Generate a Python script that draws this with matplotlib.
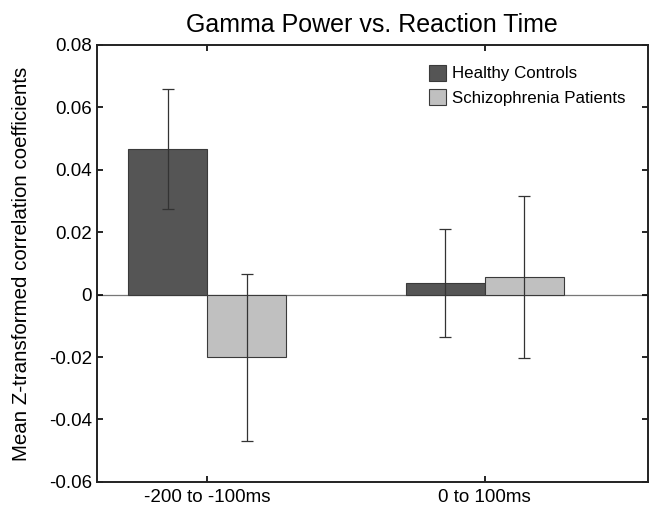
import matplotlib
matplotlib.use("Agg")
import matplotlib.pyplot as plt
import numpy as np

plt.rcParams["font.family"] = ["Liberation Sans", "DejaVu Sans"]

# ── data ─────────────────────────────────────────────────────────────────────
categories = ["-200 to -100ms", "0 to 100ms"]
groups     = ["Healthy Controls", "Schizophrenia Patients"]

hc_mean = [0.0467, 0.0038]
hc_err  = [0.0193, 0.0173]
sz_mean = [-0.0201, 0.0056]
sz_err  = [0.0267, 0.0259]

COLORS = {
    "dark":  "#555555",
    "light": "#c0c0c0",
    "edge":  "#3a3a3a",
}

# ── plot ─────────────────────────────────────────────────────────────────────
fig = plt.figure(figsize=(6.51, 5.11), dpi=100)
ax = fig.add_axes([0.149, 0.057, 0.846, 0.855])

x = np.arange(1, len(categories) + 1)
width = 0.284

err_kw = dict(ecolor="#333333", elinewidth=0.9, capsize=4, capthick=0.9)
ax.bar(x - width / 2, hc_mean, width, yerr=hc_err, color=COLORS["dark"],
       edgecolor=COLORS["edge"], linewidth=0.8, label=groups[0],
       error_kw=err_kw, zorder=2)
ax.bar(x + width / 2, sz_mean, width, yerr=sz_err, color=COLORS["light"],
       edgecolor=COLORS["edge"], linewidth=0.8, label=groups[1],
       error_kw=err_kw, zorder=2)

ax.axhline(0, color="#777777", linewidth=0.9, zorder=1)

ax.set_xlim(0.603, 2.587)
ax.set_ylim(-0.06, 0.08)
ax.set_yticks(np.arange(-0.06, 0.081, 0.02))
ax.set_yticklabels(["-0.06", "-0.04", "-0.02", "0", "0.02", "0.04", "0.06", "0.08"])
ax.set_xticks(x)
ax.set_xticklabels(categories)

ax.tick_params(axis="both", direction="in", length=4, width=1.2,
               top=True, right=True, labelsize=13.5, colors="black")
ax.tick_params(axis="x", pad=5)
for s in ax.spines.values():
    s.set_linewidth(1.4)
    s.set_color("#222222")

ax.set_ylabel("Mean Z-transformed correlation coefficients", fontsize=14.8,
              labelpad=13)
ax.set_title("Gamma Power vs. Reaction Time", fontsize=18, pad=9)

ax.legend(loc="upper left", bbox_to_anchor=(0.575, 0.99), frameon=False,
          fontsize=12.2, handlelength=1.0, handleheight=1.1,
          handletextpad=0.35, labelspacing=0.45)

fig.savefig("out.png", dpi=100)
